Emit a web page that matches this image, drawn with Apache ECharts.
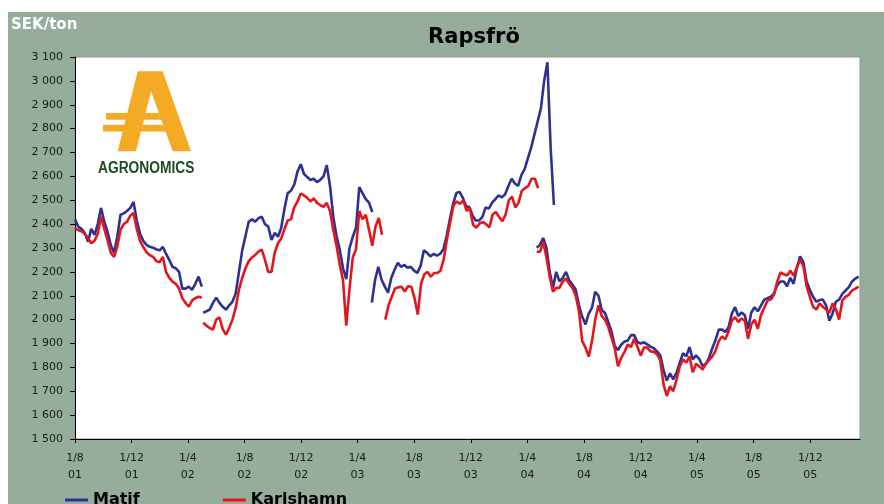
<!DOCTYPE html>
<html>
<head>
<meta charset="utf-8">
<title>Rapsfrö</title>
<script src="https://cdn.jsdelivr.net/npm/echarts@6/dist/echarts.min.js"></script>
<style>
  html, body { margin: 0; padding: 0; background: #ffffff; }
  #wrap { position: relative; width: 884px; height: 504px; overflow: hidden; background: #ffffff; }
  #panel { position: absolute; left: 8px; top: 12px; width: 876px; height: 492px; background: #97ad9c; }
  #chart { position: absolute; left: 0; top: 0; width: 884px; height: 504px; }
</style>
</head>
<body>
<div id="wrap">
  <div id="panel"></div>
  <div id="chart"></div>
</div>
<script>
// Weekly closing prices, SEK/ton. Each contract period is its own array,
// starting at the date given in the matching *_START entry, one value per week.
const MATIF_START = ['2001-08-01', '2002-05-04', '2003-05-02', '2004-04-21'];
const KARLSHAMN_START = ['2001-08-01', '2002-05-04', '2003-05-31', '2004-04-21'];

const matif1 = [2420, 2390, 2380, 2363, 2326, 2380, 2355, 2400, 2468, 2410,
  2368, 2313, 2280, 2347, 2439, 2445, 2455, 2468, 2493, 2415,
  2360, 2330, 2313, 2305, 2301, 2295, 2290, 2305, 2275, 2250,
  2221, 2215, 2200, 2130, 2130, 2138, 2125, 2150, 2180, 2138];
const matif2 = [2029, 2035, 2042, 2070, 2092, 2070, 2054, 2042, 2060, 2075,
  2110, 2200, 2290, 2350, 2410, 2420, 2410, 2425, 2431, 2400,
  2390, 2334, 2363, 2347, 2385, 2465, 2530, 2540, 2565, 2620,
  2651, 2610, 2597, 2585, 2590, 2576, 2585, 2600, 2647, 2560,
  2431, 2350, 2293, 2215, 2170, 2300, 2347, 2385, 2555, 2530,
  2505, 2490, 2451];
const matif3 = [2071, 2167, 2221, 2167, 2138, 2113, 2175, 2209, 2238, 2221,
  2229, 2217, 2221, 2205, 2196, 2225, 2290, 2280, 2265, 2275,
  2268, 2275, 2295, 2350, 2420, 2485, 2530, 2535, 2510, 2475,
  2472, 2435, 2415, 2415, 2430, 2470, 2465, 2490, 2505, 2520,
  2512, 2525, 2560, 2590, 2570, 2560, 2605, 2630, 2675, 2720,
  2775, 2830, 2885, 3000, 3078, 2720, 2480];
const matif4 = [2301, 2313, 2342, 2300, 2200, 2133, 2200, 2160, 2175, 2200,
  2165, 2146, 2125, 2060, 2012, 1980, 2025, 2050, 2117, 2100,
  2040, 2028, 1990, 1950, 1890, 1872, 1895, 1908, 1912, 1935,
  1935, 1905, 1900, 1905, 1896, 1887, 1880, 1867, 1850, 1790,
  1745, 1775, 1750, 1778, 1820, 1860, 1846, 1885, 1833, 1850,
  1835, 1806, 1815, 1840, 1880, 1915, 1958, 1958, 1948, 1968,
  2025, 2052, 2015, 2030, 2018, 1962, 2030, 2052, 2035, 2060,
  2084, 2090, 2096, 2110, 2145, 2160, 2160, 2140, 2175, 2150,
  2215, 2265, 2242, 2160, 2125, 2096, 2075, 2082, 2084, 2060,
  1995, 2025, 2075, 2084, 2108, 2122, 2136, 2160, 2172, 2180];

const karlshamn1 = [2384, 2375, 2370, 2360, 2342, 2320, 2330, 2360, 2431, 2380,
  2334, 2280, 2263, 2305, 2376, 2400, 2410, 2435, 2447, 2380,
  2330, 2305, 2282, 2270, 2263, 2245, 2240, 2263, 2200, 2175,
  2159, 2150, 2130, 2090, 2070, 2054, 2080, 2090, 2096, 2092];
const karlshamn2 = [1987, 1975, 1965, 1958, 2000, 2010, 1960, 1937, 1965, 2000,
  2050, 2125, 2175, 2215, 2245, 2260, 2271, 2285, 2293, 2250,
  2200, 2200, 2280, 2320, 2340, 2380, 2415, 2420, 2470, 2495,
  2528, 2520, 2510, 2495, 2508, 2489, 2480, 2472, 2489, 2455,
  2376, 2310, 2230, 2165, 1975, 2130, 2260, 2295, 2455, 2420,
  2439, 2376, 2310, 2390, 2426, 2355];
const karlshamn3 = [2000, 2060, 2096, 2130, 2135, 2138, 2118, 2140, 2138, 2090,
  2021, 2150, 2190, 2200, 2180, 2195, 2195, 2205, 2255, 2340,
  2410, 2480, 2495, 2485, 2500, 2455, 2468, 2397, 2385, 2403,
  2408, 2400, 2386, 2440, 2451, 2430, 2412, 2440, 2500, 2515,
  2470, 2490, 2540, 2551, 2560, 2590, 2590, 2551];
const karlshamn4 = [2284, 2284, 2326, 2260, 2180, 2117, 2133, 2133, 2159, 2172,
  2150, 2133, 2100, 2035, 1910, 1883, 1845, 1910, 2000, 2060,
  2015, 2000, 1970, 1925, 1880, 1805, 1840, 1865, 1896, 1885,
  1920, 1885, 1850, 1883, 1883, 1867, 1865, 1854, 1830, 1730,
  1680, 1721, 1700, 1748, 1804, 1833, 1820, 1846, 1779, 1815,
  1804, 1791, 1815, 1830, 1845, 1870, 1910, 1929, 1918, 1950,
  1995, 2010, 1990, 2005, 1995, 1920, 1980, 2000, 1962, 2020,
  2050, 2080, 2084, 2105, 2160, 2198, 2190, 2185, 2205, 2185,
  2220, 2250, 2225, 2140, 2096, 2054, 2042, 2068, 2054, 2042,
  2029, 2068, 2045, 2000, 2080, 2096, 2104, 2122, 2130, 2138];

// Axis labels on the first of every fourth month
const tickDates = ['2001-08-01', '2001-12-01', '2002-04-01', '2002-08-01', '2002-12-01',
  '2003-04-01', '2003-08-01', '2003-12-01', '2004-04-01', '2004-08-01',
  '2004-12-01', '2005-04-01', '2005-08-01', '2005-12-01'];
const xRange = ['2001-08-01', '2006-03-18'];
const yRange = [1500, 3100];

const MATIF_COLOR = '#2e3192';
const KARLSHAMN_COLOR = '#e3161b';
const LOGO_GOLD = '#f5aa25';

function toTime(s, addDays) {
  const p = s.split('-').map(Number);
  return new Date(p[0], p[1] - 1, p[2] + (addDays || 0)).getTime();
}

function weekly(start, values) {
  return values.map((v, i) => [toTime(start, 7 * i), v]);
}

function segmentSeries(name, color, starts, segments) {
  return segments.map((vals, k) => ({
    type: 'line',
    name: name,
    data: weekly(starts[k], vals),
    showSymbol: false,
    symbol: 'none',
    color: color,
    lineStyle: { color: color, width: 2.6 },
    emphasis: { disabled: true }
  }));
}

function thousands(v) {
  if (v < 1000) return String(v);
  const r = String(v % 1000).padStart(3, '0');
  return Math.floor(v / 1000) + ' ' + r;
}

const tickTimes = tickDates.map(d => toTime(d));

const chart = echarts.init(document.getElementById('chart'), null, { renderer: 'canvas' });

chart.setOption({
  animation: false,
  backgroundColor: 'transparent',
  textStyle: { fontFamily: 'DejaVu Sans' },
  title: {
    text: 'Rapsfrö',
    left: 469,
    top: 22,
    textAlign: 'center',
    textStyle: { fontFamily: 'DejaVu Sans', fontWeight: 'bold', fontSize: 21, color: '#000000' }
  },
  legend: {
    left: 65,
    top: 492,
    padding: 0,
    icon: 'rect',
    itemWidth: 23,
    itemHeight: 3,
    itemGap: 83,
    data: ['Matif', 'Karlshamn'],
    textStyle: { fontFamily: 'DejaVu Sans', fontWeight: 'bold', fontSize: 16, color: '#000000' }
  },
  grid: {
    left: 75, right: 24, top: 57, bottom: 65,
    show: true,
    backgroundColor: '#ffffff',
    borderColor: '#8d9b91',
    borderWidth: 1
  },
  xAxis: {
    // timestamps on a linear scale, labelled at fixed month starts
    type: 'value',
    min: toTime(xRange[0]),
    max: toTime(xRange[1]),
    axisLine: { show: true, lineStyle: { color: '#000000', width: 1 } },
    axisTick: { show: true, customValues: tickTimes, length: 4, lineStyle: { color: '#000000' } },
    axisLabel: {
      customValues: tickTimes,
      margin: 11,
      lineHeight: 17,
      fontSize: 11,
      fontFamily: 'DejaVu Sans',
      color: '#1a1a1a',
      formatter: function (value) {
        const d = new Date(value);
        return '1/' + (d.getMonth() + 1) + '\n' + String(d.getFullYear()).slice(2);
      }
    },
    splitLine: { show: false }
  },
  yAxis: {
    type: 'value',
    min: yRange[0],
    max: yRange[1],
    interval: 100,
    axisLine: { show: true, lineStyle: { color: '#000000', width: 1 } },
    axisTick: { show: true, length: 5, lineStyle: { color: '#000000' } },
    axisLabel: { margin: 12, fontSize: 11, fontFamily: 'DejaVu Sans', color: '#1a1a1a', formatter: thousands },
    splitLine: { show: false }
  },
  graphic: [
    {
      type: 'text', left: 11, top: 18, z: 100,
      style: { text: 'SEK/ton', fill: '#ffffff', font: 'bold 15px "DejaVu Sans"' }
    },
    // AGRONOMICS logo: gold A with double crossbar, green wordmark
    {
      type: 'group', z: 100,
      children: [
        {
          type: 'polygon',
          shape: { points: [[137.7, 71.3], [162.7, 71.3], [191, 151.3], [172.7, 151.3], [151, 91.3], [136, 151.3], [117.7, 151.3]] },
          style: { fill: LOGO_GOLD }
        },
        { type: 'rect', shape: { x: 106, y: 113, width: 56, height: 6.7 }, style: { fill: LOGO_GOLD } },
        { type: 'rect', shape: { x: 103, y: 124.7, width: 63, height: 6.7 }, style: { fill: LOGO_GOLD } },
        {
          type: 'text', x: 98, y: 161, scaleX: 0.86,
          style: { text: 'AGRONOMICS', fill: '#1f4a22', font: 'bold 16px "Liberation Sans"' }
        }
      ]
    }
  ],
  series: [
    ...segmentSeries('Matif', MATIF_COLOR, MATIF_START, [matif1, matif2, matif3, matif4]),
    ...segmentSeries('Karlshamn', KARLSHAMN_COLOR, KARLSHAMN_START, [karlshamn1, karlshamn2, karlshamn3, karlshamn4])
  ]
});
</script>
</body>
</html>
